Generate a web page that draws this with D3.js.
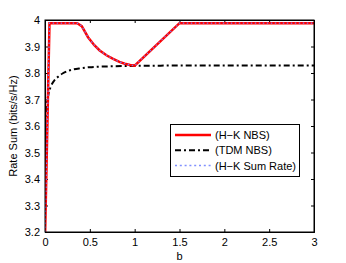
<!DOCTYPE html>
<html>
<head>
<meta charset="utf-8">
<script src="https://cdn.jsdelivr.net/npm/d3@7"></script>
<style>
body { margin: 0; background: #fff; }
text { font-family: "Liberation Sans", Arial, sans-serif; font-size: 11px; fill: #000; }
</style>
</head>
<body>
<div class="container"></div>
<script>
// values
var hkB = [0, 0.05, 0.1, 0.2, 0.3, 0.36, 0.41, 0.48, 0.55, 0.61, 0.69, 0.76, 0.83, 0.89, 0.95, 1.0, 1.5, 2, 2.5, 3];
var hkRate = [3.17, 3.988, 3.988, 3.988, 3.988, 3.988, 3.977, 3.935, 3.905, 3.885, 3.866, 3.853, 3.842, 3.835, 3.83, 3.828, 3.988, 3.988, 3.988, 3.988];
var tdmB = [0, 0.01, 0.02, 0.04, 0.06, 0.1, 0.15, 0.2, 0.3, 0.4, 0.5, 0.7, 1, 1.5, 2, 2.5, 3];
var tdmRate = [3.6, 3.64, 3.68, 3.722, 3.745, 3.77, 3.787, 3.799, 3.812, 3.818, 3.822, 3.825, 3.827, 3.828, 3.828, 3.828, 3.828];
var xTicks = [0, 0.5, 1, 1.5, 2, 2.5, 3];
var yTicks = [3.2, 3.3, 3.4, 3.5, 3.6, 3.7, 3.8, 3.9, 4];
var legendNames = ["(H\u2212K NBS)", "(TDM NBS)", "(H\u2212K Sum Rate)"];

var W = 346, H = 263;
var m = {left: 45, right: 32, top: 20, bottom: 31};

var svg = d3.select(".container").append("svg")
  .attr("width", W).attr("height", H);

var x = d3.scaleLinear().domain([0, 3]).range([m.left, W - m.right]);
var y = d3.scaleLinear().domain([3.2, 4]).range([H - m.bottom, m.top]);

svg.append("clipPath").attr("id", "clip")
  .append("rect")
  .attr("x", m.left).attr("y", m.top)
  .attr("width", W - m.left - m.right).attr("height", H - m.top - m.bottom);

// axes with inward ticks, matlab style
function fmt(d) { return d3.format("")(d); }
svg.append("g").attr("transform", "translate(0," + (H - m.bottom) + ")")
  .call(d3.axisBottom(x).tickValues(xTicks).tickSize(-3).tickPadding(6).tickFormat(fmt));
svg.append("g").attr("transform", "translate(0," + m.top + ")")
  .call(d3.axisTop(x).tickValues(xTicks).tickSize(-3).tickFormat(""));
svg.append("g").attr("transform", "translate(" + m.left + ",0)")
  .call(d3.axisLeft(y).tickValues(yTicks).tickSize(-3).tickPadding(5).tickFormat(fmt));
svg.append("g").attr("transform", "translate(" + (W - m.right) + ",0)")
  .call(d3.axisRight(y).tickValues(yTicks).tickSize(-3).tickFormat(""));
svg.selectAll(".domain").attr("stroke", "#000");
svg.selectAll(".tick line").attr("stroke", "#000");
svg.selectAll(".tick text").style("font-family", "Liberation Sans, Arial, sans-serif").style("font-size", "11px");

var line = d3.line()
  .x(function(d) { return x(d[0]); })
  .y(function(d) { return y(d[1]); });

var hk = hkB.map(function(b, i) { return [b, hkRate[i]]; });
var tdm = tdmB.map(function(b, i) { return [b, tdmRate[i]]; });

var plot = svg.append("g").attr("clip-path", "url(#clip)");
plot.append("path").datum(tdm).attr("d", line.curve(d3.curveMonotoneX))
  .attr("fill", "none").attr("stroke", "#000").attr("stroke-width", 2)
  .attr("stroke-dasharray", "6,3,2,3");
line.curve(d3.curveLinear);
plot.append("path").datum(hk).attr("d", line)
  .attr("fill", "none").attr("stroke", "#ff0000").attr("stroke-width", 2.5);
plot.append("path").datum(hk).attr("d", line)
  .attr("fill", "none").attr("stroke", "#7080ff").attr("stroke-width", 1.2)
  .attr("stroke-dasharray", "1.5,2.5");

// frame
svg.append("rect")
  .attr("x", m.left).attr("y", m.top)
  .attr("width", W - m.left - m.right).attr("height", H - m.top - m.bottom)
  .attr("fill", "none").attr("stroke", "#000");

// labels
svg.append("text").attr("x", x(1.5)).attr("y", 260)
  .attr("text-anchor", "middle").text("b");
svg.append("text")
  .attr("transform", "translate(17," + y(3.6) + ") rotate(-90)")
  .attr("text-anchor", "middle").text("Rate Sum (bits/s/Hz)");

// legend
var lg = svg.append("g");
lg.append("rect").attr("x", 170.5).attr("y", 124.5).attr("width", 129).attr("height", 52)
  .attr("fill", "#fff").attr("stroke", "#000");
var styles = [
  {c: "#ff0000", w: 2.5, d: null},
  {c: "#000", w: 2, d: "6,3,2,3"},
  {c: "#8090ff", w: 1.5, d: "2,2.8"}
];
legendNames.forEach(function(n, i) {
  var yy = 135 + i * 15.3;
  lg.append("line").attr("x1", 175).attr("x2", 211).attr("y1", yy).attr("y2", yy)
    .attr("stroke", styles[i].c).attr("stroke-width", styles[i].w)
    .attr("stroke-dasharray", styles[i].d);
  lg.append("text").attr("x", 215).attr("y", yy + 4).text(n);
});
</script>
</body>
</html>
